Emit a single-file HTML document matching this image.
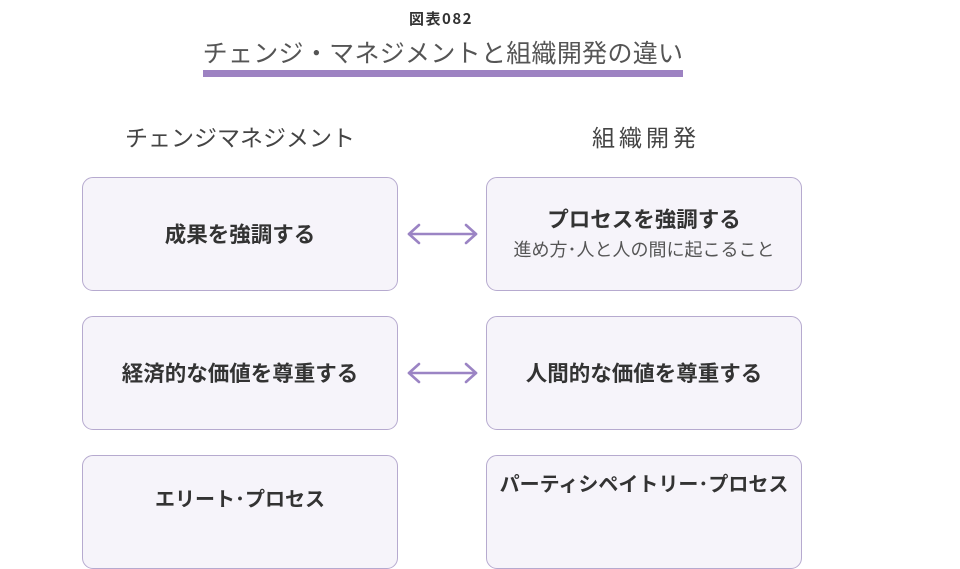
<!DOCTYPE html>
<html>
<head>
<meta charset="utf-8">
<style>
  html, body { margin:0; padding:0; }
  body { width:960px; height:499px; background:#ffffff; position:relative; overflow:hidden;
         font-family:"Liberation Sans","Noto Sans CJK JP",sans-serif; }
  .abs { position:absolute; white-space:nowrap; }
  .c { text-align:center; }
  .box { position:absolute; width:314px; height:112px; border:1.5px solid #b6aacf;
         border-radius:11px; background:#f6f4fa; box-sizing:content-box; }
  .bt { position:absolute; left:0; right:0; text-align:center; font-weight:bold; color:#333;
        font-size:21.5px; line-height:22px; font-family:"Noto Sans CJK JP",sans-serif; }
  .st { position:absolute; left:0; right:0; text-align:center; color:#555;
        font-size:18px; line-height:18px; font-family:"Noto Sans CJK JP",sans-serif; }
</style>
</head>
<body>
  <div class="abs c" style="left:341px;width:200px;top:11px;font-size:15px;line-height:16px;font-weight:bold;color:#333;letter-spacing:1.5px;font-family:'Noto Sans CJK JP',sans-serif;">図表082</div>
  <div class="abs c" style="left:143px;width:600px;top:39px;font-size:25px;line-height:26px;color:#555;letter-spacing:0.3px;font-family:'Noto Sans CJK JP',sans-serif;">チェンジ・マネジメントと組織開発の違い</div>
  <div class="abs" style="left:203px;top:70px;width:480px;height:7px;background:#9d82c2;"></div>

  <div class="abs c" style="left:90px;width:300px;top:125px;font-size:23px;line-height:23px;color:#444;font-family:'Noto Sans CJK JP',sans-serif;">チェンジマネジメント</div>
  <div class="abs c" style="left:494px;width:300px;top:125px;font-size:23px;line-height:23px;color:#444;letter-spacing:4px;text-indent:4px;font-family:'Noto Sans CJK JP',sans-serif;">組織開発</div>

  <!-- Row 1 -->
  <div class="box" style="left:82px;top:177px;">
    <div class="bt" style="top:45px;">成果を強調する</div>
  </div>
  <div class="box" style="left:486px;top:177px;">
    <div class="bt" style="top:30px;">プロセスを強調する</div>
    <div class="st" style="top:62px;">進め方･人と人の間に起こること</div>
  </div>

  <!-- Row 2 -->
  <div class="box" style="left:82px;top:316px;">
    <div class="bt" style="top:45px;">経済的な価値を尊重する</div>
  </div>
  <div class="box" style="left:486px;top:316px;">
    <div class="bt" style="top:45px;">人間的な価値を尊重する</div>
  </div>

  <!-- Row 3 -->
  <div class="box" style="left:82px;top:455px;">
    <div class="bt" style="top:32px;font-size:20px;line-height:20px;">エリート･プロセス</div>
  </div>
  <div class="box" style="left:486px;top:455px;">
    <div class="bt" style="top:17px;font-size:20px;line-height:20px;">パーティシペイトリー･プロセス</div>
  </div>

  <!-- Arrows -->
  <svg class="abs" style="left:0;top:0;" width="960" height="499" viewBox="0 0 960 499">
    <g fill="none" stroke="#9b84c4" stroke-width="2.6" stroke-linecap="round" stroke-linejoin="round">
      <line x1="409" y1="234" x2="476" y2="234"/>
      <polyline points="419,225 409,234 419,243"/>
      <polyline points="466,225 476,234 466,243"/>
      <line x1="409" y1="373" x2="476" y2="373"/>
      <polyline points="419,364 409,373 419,382"/>
      <polyline points="466,364 476,373 466,382"/>
    </g>
  </svg>
</body>
</html>
